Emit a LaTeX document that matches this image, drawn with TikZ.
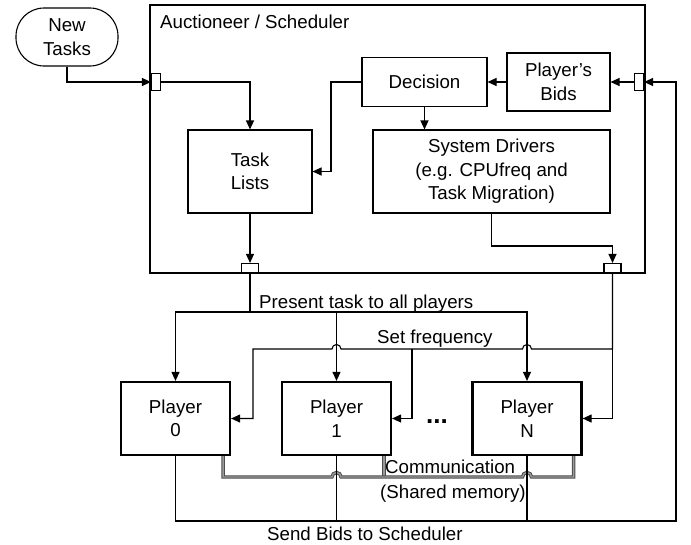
\documentclass[tikz,border=0pt]{standalone}
\usepackage{fontspec}
\setmainfont{Liberation Sans}
\usetikzlibrary{arrows.meta, calc}

\begin{document}
\begin{tikzpicture}[every text node part/.style={align=center}, x=1pt, y=-1pt,
  font=\fontsize{18.7}{23.5}\selectfont]

\tikzstyle{box}=[draw, line width=1.1pt, inner sep=0pt]
\tikzstyle{thickbox}=[draw, line width=2.5pt, inner sep=0pt]
\tikzstyle{playerbox}=[draw, line width=2.2pt, inner sep=0pt, minimum width=109pt, minimum height=73pt]
\tikzstyle{port}=[draw, fill=white, line width=1.1pt, inner sep=0pt]
\tikzstyle{edge}=[draw, line width=1.1pt]
\tikzstyle{arrow}=[edge, -{Triangle[length=9pt, width=8pt]}]
\tikzstyle{comm}=[draw=black!70, line width=1pt, double=black!40, double distance=1.4pt]
\tikzstyle{label}=[inner sep=0pt, anchor=base west]

\useasboundingbox (0,0) rectangle (691,544);

\node [box, rounded corners=28pt, minimum width=102pt, minimum height=58pt] (newtasks) at (67,37) {New\\Tasks};

\node [thickbox, minimum width=495pt, minimum height=268pt] (auct) at (397.5,139) {};
\node [label] (auctlabel) at (160,28) {Auctioneer / Scheduler};

\node [box, minimum width=124pt, minimum height=83pt] (tasklists) at (250,171.5) {Task\\Lists};
\node [box, minimum width=125pt, minimum height=49pt] (decision) at (424.5,82) {Decision};
\node [box, minimum width=103pt, minimum height=58pt] (bids) at (558.5,82) {Player’s\\Bids};
\node [box, minimum width=237pt, minimum height=83pt] (drivers) at (491.5,171.5) {System Drivers\\(e.g. CPUfreq and\\Task Migration)};

\node [port, minimum width=9pt, minimum height=17pt] (inport) at (156,82) {};
\node [port, minimum width=9pt, minimum height=17pt] (bidport) at (639,82) {};
\node [port, minimum width=17pt, minimum height=9pt] (taskport) at (250,268) {};
\node [port, minimum width=17pt, minimum height=9pt] (freqport) at (612.5,268) {};

\node [playerbox] (player0) at (175.5,418.5) {Player\\0};
\node [playerbox] (player1) at (336.5,418.5) {Player\\1};
\node [playerbox] (playerN) at (527,418.5) {Player\\N};
\node [font=\fontsize{26}{26}\selectfont\bfseries] (dots) at (437,422) {...};

\node [label] (presentlabel) at (259,308) {Present task to all players};
\node [label] (freqlabel) at (377,343) {Set frequency};
\node [label] (commlabel) at (385,473) {Communication};
\node [label] (sharedlabel) at (380,498) {(Shared memory)};
\node [label] (sendlabel) at (267,540) {Send Bids to Scheduler};

\coordinate (lbend) at (331,82);
\coordinate (dbend) at (612.5,246);
\coordinate (present) at (250,312);
\coordinate (freq) at (612.5,349);
\coordinate (send) at (676,521);

% inside the scheduler
\path [arrow] (newtasks.south) |- (inport.west);
\path [arrow] (inport.east) -| (tasklists.north);
\path [arrow] (tasklists.south) -- (taskport.north);
\path [arrow] (decision.west) -- (lbend) |- (tasklists.east);
\path [arrow] (bids.west) -- (decision.east);
\path [arrow] (bidport.west) -- (bids.east);
\path [arrow] (decision.south) -- (decision.south |- drivers.north);
\path [arrow] (drivers.south) |- (dbend) -- (freqport.north);

% present task
\path [edge] (taskport.south) -- (present);
\path [arrow] (present) -| (player0.north);
\path [arrow] (present) -| (playerN.north);
\path [arrow] (player1.north |- present) -- (player1.north);

% set frequency
\path [arrow] (freqport.south) -- (freq) -- (531.5,349) arc[start angle=0, end angle=180, radius=4.5pt]
  -- (341,349) arc[start angle=0, end angle=180, radius=4.5pt] -- (253,349) |- (player0.east);
\path [arrow] (412,349) |- (player1.east);
\path [arrow] (freq) |- (playerN.east);

% communication
\path [comm] ([xshift=-8pt]player1.south east) -- ++(0,22);
\path [comm] ([xshift=-8pt]player0.south east) |- (332,477) arc[start angle=180, end angle=0, radius=4.5pt]
  -- (522.5,477) arc[start angle=180, end angle=0, radius=4.5pt] -| ([xshift=-9pt]playerN.south east);

% send bids
\path [arrow] (player0.south) |- (send) |- (bidport.east);
\path [edge] (player1.south) -- (player1.south |- send);
\path [edge] (playerN.south) -- (playerN.south |- send);

\end{tikzpicture}
\end{document}
